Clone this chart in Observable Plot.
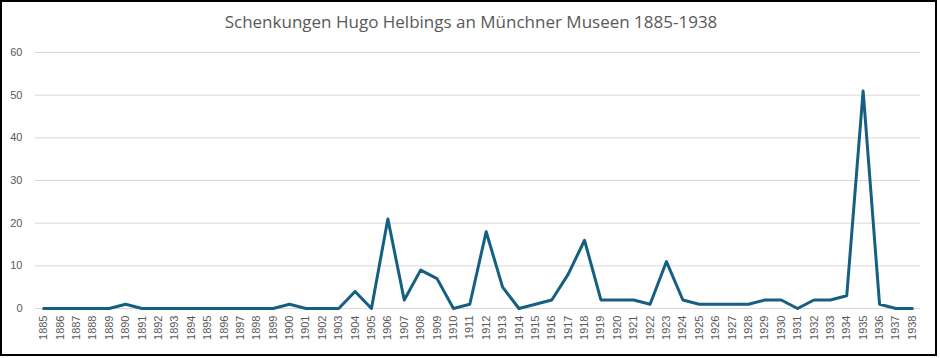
<!DOCTYPE html>
<html>
<head>
<meta charset="utf-8">
<script src="https://cdn.jsdelivr.net/npm/d3@7"></script>
<script src="https://cdn.jsdelivr.net/npm/@observablehq/plot@0.6"></script>
<style>
  html, body { margin: 0; padding: 0; background: #fff; width: 940px; height: 358px; overflow: hidden; }
  #frame { position: absolute; left: 0; top: 0; width: 937px; height: 356px; box-sizing: border-box; border: 2px solid #000; pointer-events: none; z-index: 2; }
  #title { height: 40px; line-height: 44px; text-align: center; font-family: "Open Sans", sans-serif; font-size: 17px; color: #595959; padding-left: 2px; }
  #chart svg { display: block; }
</style>
</head>
<body>
<div id="frame"></div>
<div id="title">Schenkungen Hugo Helbings an Münchner Museen 1885-1938</div>
<div id="chart"></div>
<script>
const years = ["1885","1886","1887","1888","1889","1890","1891","1892","1893","1894","1895","1896","1897","1898","1899","1900","1901","1902","1903","1904","1905","1906","1907","1908","1909","1910","1911","1912","1913","1914","1915","1916","1917","1918","1919","1920","1921","1922","1923","1924","1925","1926","1927","1928","1929","1930","1931","1932","1933","1934","1935","1936","1937","1938"];
const counts = [0,0,0,0,0,1,0,0,0,0,0,0,0,0,0,1,0,0,0,4,0,21,2,9,7,0,1,18,5,0,1,2,8,16,2,2,2,1,11,2,1,1,1,1,2,2,0,2,2,3,51,1,0,0];
const yTicks = [0,10,20,30,40,50,60];

const data = years.map((y, i) => ({year: y, value: counts[i]}));

const chart = Plot.plot({
  width: 940,
  height: 318,
  marginTop: 12,
  marginBottom: 50,
  marginLeft: 35,
  marginRight: 20,
  style: {fontFamily: "'Liberation Sans', Arial, sans-serif", fontSize: "11px", color: "#595959", background: "#fff"},
  x: {type: "point", domain: years, padding: 0.5, round: false, label: null},
  y: {domain: [0, 60], ticks: yTicks, label: null},
  marks: [
    Plot.gridY(yTicks, {stroke: "#d9d9d9", strokeOpacity: 1, strokeWidth: 1}),
    Plot.axisY(yTicks, {tickSize: 0, tickPadding: 13, label: null, fill: "#595959"}),
    Plot.axisX({tickSize: 0, tickPadding: 7, tickRotate: -90, label: null, fill: "#595959"}),
    Plot.line(data, {x: "year", y: "value", stroke: "#156082", strokeWidth: 3, strokeLinejoin: "round"})
  ]
});
document.getElementById("chart").appendChild(chart);
</script>
</body>
</html>
